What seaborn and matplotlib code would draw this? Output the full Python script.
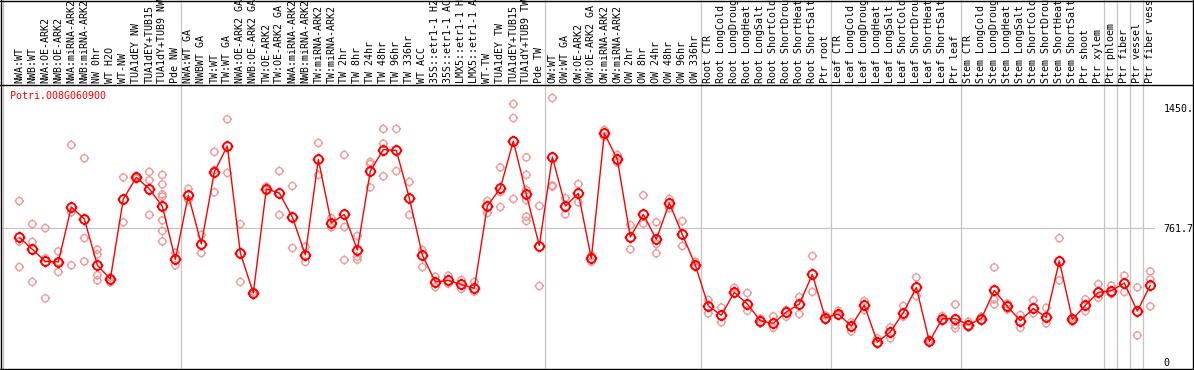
import numpy as np
import pandas as pd
import matplotlib
matplotlib.use("Agg")
import matplotlib.pyplot as plt
import seaborn as sns
from matplotlib.lines import Line2D
from matplotlib.path import Path

gene = "Potri.008G060900"

samples = [
    "NWA:WT", "NWB:WT", "NWA:OE-ARK2", "NWB:OE-ARK2", "NWA:miRNA-ARK2", "NWB:miRNA-ARK2",
    "NW 0hr", "WT H2O", "WT-NW", "TUA1dEY NW", "TUA1dEY+TUB15", "TUA1dY+TUB9 NW", "Pde NW",
    "NWA:WT GA", "NWBWT GA", "TW:WT", "TW:WT GA", "NWA:OE-ARK2 GA", "NWB:OE-ARK2 GA",
    "TW:OE-ARK2", "TW:OE-ARK2 GA", "NWA:miRNA-ARK2", "NWB:miRNA-ARK2", "TW:miRNA-ARK2",
    "TW:miRNA-ARK2", "TW 2hr", "TW 8hr", "TW 24hr", "TW 48hr", "TW 96hr", "TW 336hr",
    "WT ACC", "35S::etr1-1 H2", "35S::etr1-1 AC", "LMX5::etr1-1 H", "LMX5::etr1-1 A",
    "WT-TW", "TUA1dEY TW", "TUA1dEY+TUB15", "TUA1dY+TUB9 TW", "Pde TW",
    "OW:WT", "OW:WT GA", "OW:OE-ARK2", "OW:OE-ARK2 GA", "OW:miRNA-ARK2", "OW:miRNA-ARK2",
    "OW 2hr", "OW 8hr", "OW 24hr", "OW 48hr", "OW 96hr", "OW 336hr",
    "Root CTR", "Root LongCold", "Root LongDroug", "Root LongHeat", "Root LongSalt",
    "Root ShortCold", "Root ShortDrou", "Root ShortHeat", "Root ShortSalt", "Ptr root",
    "Leaf CTR", "Leaf LongCold", "Leaf LongDroug", "Leaf LongHeat", "Leaf LongSalt",
    "Leaf ShortCold", "Leaf ShortDrou", "Leaf ShortHeat", "Leaf ShortSalt", "Ptr leaf",
    "Stem CTR", "Stem LongCold", "Stem LongDroug", "Stem LongHeat", "Stem LongSalt",
    "Stem ShortCold", "Stem ShortDrou", "Stem ShortHeat", "Stem ShortSalt", "Ptr shoot",
    "Ptr xylem", "Ptr phloem", "Ptr fiber", "Ptr vessel", "Ptr fiber vess",
]

# mean expression per sample
means = [
    710, 642, 573, 570, 883, 815, 551, 473, 929, 1052, 986, 887, 585,
    950, 672, 1083, 1231, 621, 393, 986, 963, 826, 610, 1155, 792, 841, 638,
    1088, 1210, 1206, 934, 610, 456, 465, 442, 420, 889, 990, 1259, 955, 663,
    1168, 889, 961, 590, 1303, 1155, 712, 841, 699, 906, 727, 552,
    319, 266, 397, 330, 235, 220, 285, 330, 499, 252,
    273, 205, 323, 114, 171, 281, 425, 117, 247, 247,
    212, 247, 408, 317, 235, 305, 254, 577, 243, 323, 397,
    406, 450, 290, 437,
]

# individual replicates per sample
reps = [
    [917, 686, 541], [786, 684, 456], [763, 591, 363], [630, 513, 570],
    [1237, 853, 551], [1161, 706, 573], [640, 613, 494, 465], [482, 454],
    [1052, 796], [1045, 1058], [1083, 1035, 838],
    [1066, 1012, 955, 942, 807, 746, 687], [623, 551],
    [986, 923], [724, 621], [1197, 1094, 967], [1383, 1077], [786, 456],
    [382, 400], [999, 980], [1088, 838], [1003, 649], [657, 570],
    [1248, 1066], [820, 767], [1180, 769, 581], [718, 600, 583],
    [1140, 1128, 995], [1328, 1244, 1058], [1328, 1088], [1026, 838],
    [638, 541], [486, 427], [492, 446], [467, 416], [456, 401],
    [917, 849], [1109, 969, 883], [1470, 1390, 929],
    [1166, 1066, 980, 923, 828, 803], [889, 433],
    [1504, 1005, 999], [934, 841], [1014, 910], [606, 572], [1322, 1284],
    [1180, 1136], [780, 642], [950, 788], [796, 672, 619], [929, 876],
    [803, 661], [572, 543],
    [353, 277], [311, 226], [423, 391], [393, 292], [247, 220], [260, 195],
    [296, 258], [370, 273], [604, 399], [266, 239],
    [292, 266], [226, 174], [347, 296], [135, 102], [197, 135], [319, 258],
    [482, 376], [125, 110], [262, 235], [328, 211, 192],
    [230, 197], [258, 235], [539, 357, 328], [334, 300], [268, 195],
    [351, 277], [309, 220], [705, 465], [252, 230], [357, 290], [444, 366],
    [435, 387], [492, 399], [425, 152], [516, 471, 317],
]

ytick_vals = [0, 761.7, 1450]
ytick_text = ["0", "761.7", "1450."]

# last sample index of each block, a grey line follows it
group_ends = [12, 40, 52, 62, 72, 83, 84, 85, 86, 87]

rep_df = pd.DataFrame(
    [(i, v) for i, vals in enumerate(reps) for v in vals], columns=["idx", "value"]
)
mean_df = pd.DataFrame({"idx": np.arange(len(means)), "value": means})

# open circle with four little ticks, like the original markers
t = 1.35
tick_verts = [(0, 1), (0, t), (0, -1), (0, -t), (1, 0), (t, 0), (-1, 0), (-t, 0)]
ticks = Path(tick_verts, [Path.MOVETO, Path.LINETO] * 4)
ring = Path.make_compound_path(Path.unit_circle(), ticks)

sns.set_style("white")
plt.rcParams["font.family"] = ["DejaVu Sans Mono"]

W, H = 1194, 370
fig = plt.figure(figsize=(W / 100, H / 100), dpi=100)


def box(l, t, r, b):
    return [l / W, 1 - b / H, (r - l) / W, (b - t) / H]


ax = fig.add_axes(box(1, 85, 1155, 369))
axh = fig.add_axes(box(1, 0, 1155, 85))

xlim = (-1.41, 87.36)
grid_c = "#c4c4c4"

#======== data panel ========================
ax.axhline(761.7, color=grid_c, lw=0.9, zorder=0)
for b in [-1.69] + group_ends:
    ax.axvline(b + 0.4, color=grid_c, lw=0.9, zorder=0)
    axh.axvline(b + 0.4, color=grid_c, lw=0.9, zorder=0)

sns.scatterplot(data=rep_df, x="idx", y="value", ax=ax, marker=ring, s=46,
                facecolor="none", edgecolor="#f29a9a", linewidth=1.0, zorder=2)
sns.lineplot(data=mean_df, x="idx", y="value", ax=ax, estimator=None,
             color="#ff0000", linewidth=1.0, marker=ring, markersize=8.4,
             markerfacecolor="none", markeredgecolor="#ff0000",
             markeredgewidth=1.4, zorder=3)

ax.set_xlim(*xlim)
ax.set_ylim(-39.9, 1578.3)
ax.set_xticks([])
ax.yaxis.tick_right()
ax.set_yticks(ytick_vals, ytick_text)
ax.tick_params(axis="y", length=0, pad=6, labelsize=7.2, colors="black")
ax.set_xlabel("")
ax.set_ylabel("")
for s in ax.spines.values():
    s.set_visible(False)

ax.text(0.0078, 0.979, gene, transform=ax.transAxes, color="red",
        fontsize=7.2, ha="left", va="top")

#======== header with sample names ==========
axh.set_xlim(*xlim)
axh.set_ylim(0, 1)
axh.set_xticks([])
axh.set_yticks([])
for s in axh.spines.values():
    s.set_visible(False)
for i, name in enumerate(samples):
    axh.text(i, 0.025, name, rotation=90, ha="center", va="bottom",
             fontsize=7.2, color="black", clip_on=True)

# black frame
for x0, y0, x1, y1 in [(0, 0.5, W, 0.5), (0, 85, W, 85), (0, 369, W, 369),
                       (1, 0, 1, H), (1193, 0, 1193, H)]:
    fig.add_artist(Line2D([x0 / W, x1 / W], [1 - y0 / H, 1 - y1 / H],
                          transform=fig.transFigure, color="black", lw=1.0))

fig.savefig("out.png", dpi=100)
